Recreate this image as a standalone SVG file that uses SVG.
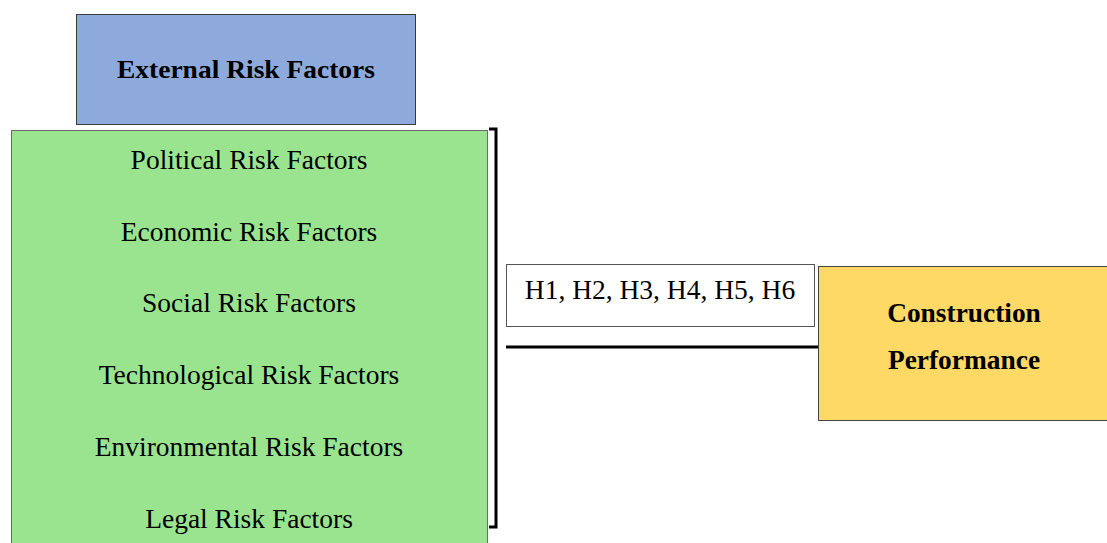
<svg xmlns="http://www.w3.org/2000/svg" width="1107" height="543" viewBox="0 0 1107 543">
<style>
text{font-family:"Liberation Serif","Times New Roman",serif;fill:#000;text-anchor:middle}
.b{font-weight:bold;font-size:26px}
.p{font-weight:bold;font-size:27.4px}
.r{font-size:27.5px}
</style>
<rect width="1107" height="543" fill="#fff"/>
<g id="external">
<rect x="76.5" y="14.5" width="339" height="110" fill="#8EAADC" stroke="#3a3a3a" stroke-width="1"/>
<text class="b" x="246" y="78" textLength="258" lengthAdjust="spacingAndGlyphs">External Risk Factors</text>
</g>
<g id="factors">
<rect x="11.5" y="130.5" width="476" height="420" fill="#9BE48F" stroke="#6a6a6a" stroke-width="1"/>
<text class="r" x="249" y="169">Political Risk Factors</text>
<text class="r" x="249" y="241">Economic Risk Factors</text>
<text class="r" x="249" y="312">Social Risk Factors</text>
<text class="r" x="249" y="384">Technological Risk Factors</text>
<text class="r" x="249" y="456">Environmental Risk Factors</text>
<text class="r" x="249" y="528">Legal Risk Factors</text>
</g>
<g id="hypotheses">
<rect x="506.5" y="264.5" width="308" height="62" fill="#fff" stroke="#555" stroke-width="1"/>
<text class="r" x="660" y="299">H1, H2, H3, H4, H5, H6</text>
</g>
<g id="performance">
<rect x="818.5" y="266.5" width="300" height="154" fill="#FED966" stroke="#444" stroke-width="1"/>
<text class="p" x="964" y="322">Construction</text>
<text class="p" x="964" y="369">Performance</text>
</g>
<g id="connectors" fill="none" stroke="#000" stroke-width="3">
<path d="M489 129 H496 V527 H489"/>
<path d="M506 347 H818"/>
</g>
</svg>
